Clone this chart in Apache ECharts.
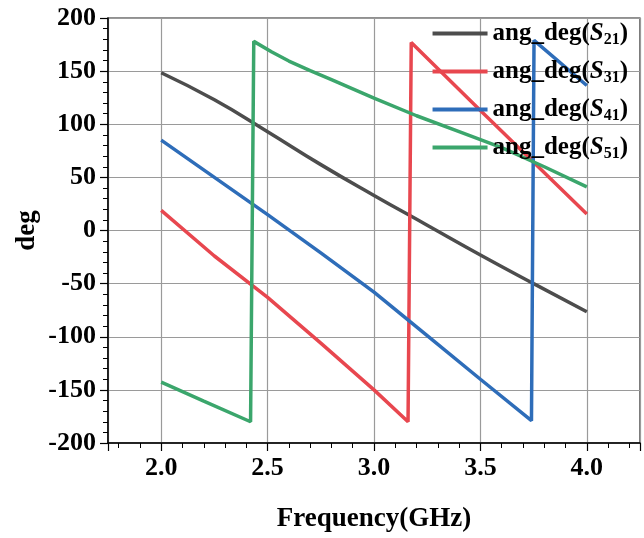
<!DOCTYPE html>
<html>
<head>
<meta charset="utf-8">
<script src="https://cdn.jsdelivr.net/npm/echarts@6/dist/echarts.min.js"></script>
<style>
  html, body { margin: 0; padding: 0; background: #fff; }
  #main { width: 644px; height: 538px; }
</style>
</head>
<body>
<div id="main"></div>
<script>
// values
var freqS21 = [2.0, 2.25, 2.5, 2.75, 3.0, 3.25, 3.5, 3.75, 4.0];
var degS21 = [148.5, 123, 93, 62, 33, 5, -23, -50, -76.5];

var freqS31 = [2.0, 2.25, 2.5, 2.75, 3.0, 3.16, 3.175, 3.5, 4.0];
var degS31 = [19, -24, -63, -106, -150, -180, 177, 113, 15.6];

var freqS41 = [2.0, 2.25, 2.5, 2.75, 3.0, 3.25, 3.5, 3.74, 3.752, 4.0];
var degS41 = [85, 50, 15, -21, -58, -99, -140, -179, 179, 136.5];

var freqS51 = [2.0, 2.2, 2.42, 2.435, 2.52, 2.6, 2.7, 2.8, 3.0, 3.2, 3.4, 3.6, 3.8, 4.0];
var degS51 = [-142.7, -160.5, -180, 178, 168, 159.5, 150.5, 142, 124.5, 108, 93, 78, 60, 41];

var names = ['ang_deg(S21)', 'ang_deg(S31)', 'ang_deg(S41)', 'ang_deg(S51)'];
var colors = ['#4d4d4d', '#e8474f', '#2e6db9', '#3ba66c'];

function pairs(xs, ys) {
    return xs.map(function (x, i) { return [x, ys[i]]; });
}

var font = 'Liberation Serif';
var lines = [pairs(freqS21, degS21), pairs(freqS31, degS31), pairs(freqS41, degS41), pairs(freqS51, degS51)];

var myChart = echarts.init(document.getElementById('main'));

var option = {
    animation: false,
    grid: {
        left: 108, right: 4, top: 18, bottom: 94,
        show: true, borderColor: '#222', borderWidth: 1.2
    },
    legend: {
        orient: 'vertical',
        right: 11, top: 16,
        icon: 'rect',
        itemWidth: 55, itemHeight: 4,
        itemGap: 11.5,
        data: names,
        formatter: function (name) {
            return '{a|ang_deg(}{i|S}{s|' + name.slice(-3, -1) + '}{a|)}';
        },
        textStyle: {
            rich: {
                a: { fontFamily: font, fontWeight: 'bold', fontSize: 25, lineHeight: 28, color: '#000' },
                i: { fontFamily: font, fontWeight: 'bold', fontStyle: 'italic', fontSize: 25, lineHeight: 28, color: '#000' },
                s: { fontFamily: font, fontWeight: 'bold', fontSize: 16, lineHeight: 12, verticalAlign: 'bottom', color: '#000' }
            }
        }
    },
    xAxis: {
        type: 'value',
        min: 1.75, max: 4.25,
        name: 'Frequency(GHz)',
        nameLocation: 'middle',
        nameGap: 63,
        nameTextStyle: { fontFamily: font, fontWeight: 'bold', fontSize: 27, color: '#000' },
        axisLine: { onZero: false, lineStyle: { color: '#000', width: 1.5 } },
        axisTick: { inside: false, length: 8, lineStyle: { color: '#000', width: 1.2 } },
        minorTick: { show: true, splitNumber: 5, length: 5, lineStyle: { color: '#000', width: 1 } },
        axisLabel: {
            showMinLabel: false, showMaxLabel: false,
            margin: 12,
            fontFamily: font, fontWeight: 'bold', fontSize: 26, color: '#000',
            formatter: function (v) { return v.toFixed(1); }
        },
        splitLine: { show: true, lineStyle: { color: '#9a9a9a', width: 1.2 } }
    },
    yAxis: {
        type: 'value',
        min: -200, max: 200, interval: 50,
        name: 'deg',
        nameLocation: 'middle',
        nameGap: 67,
        nameMoveOverlap: false,
        nameRotate: 90,
        nameTextStyle: { fontFamily: font, fontWeight: 'bold', fontSize: 27, color: '#000' },
        axisLine: { show: true, onZero: false, lineStyle: { color: '#000', width: 1.5 } },
        axisTick: { show: true, inside: false, length: 8, lineStyle: { color: '#000', width: 1.2 } },
        minorTick: { show: true, splitNumber: 5, length: 5, lineStyle: { color: '#000', width: 1 } },
        axisLabel: { margin: 12, fontFamily: font, fontWeight: 'bold', fontSize: 26, color: '#000' },
        splitLine: { show: true, lineStyle: { color: '#9a9a9a', width: 1.2 } }
    },
    series: names.map(function (n, k) {
        return {
            name: n,
            type: 'line',
            data: lines[k],
            symbol: 'none',
            smooth: k === 0,
            color: colors[k],
            lineStyle: { width: 3.5, color: colors[k] }
        };
    })
};

myChart.setOption(option);
</script>
</body>
</html>
